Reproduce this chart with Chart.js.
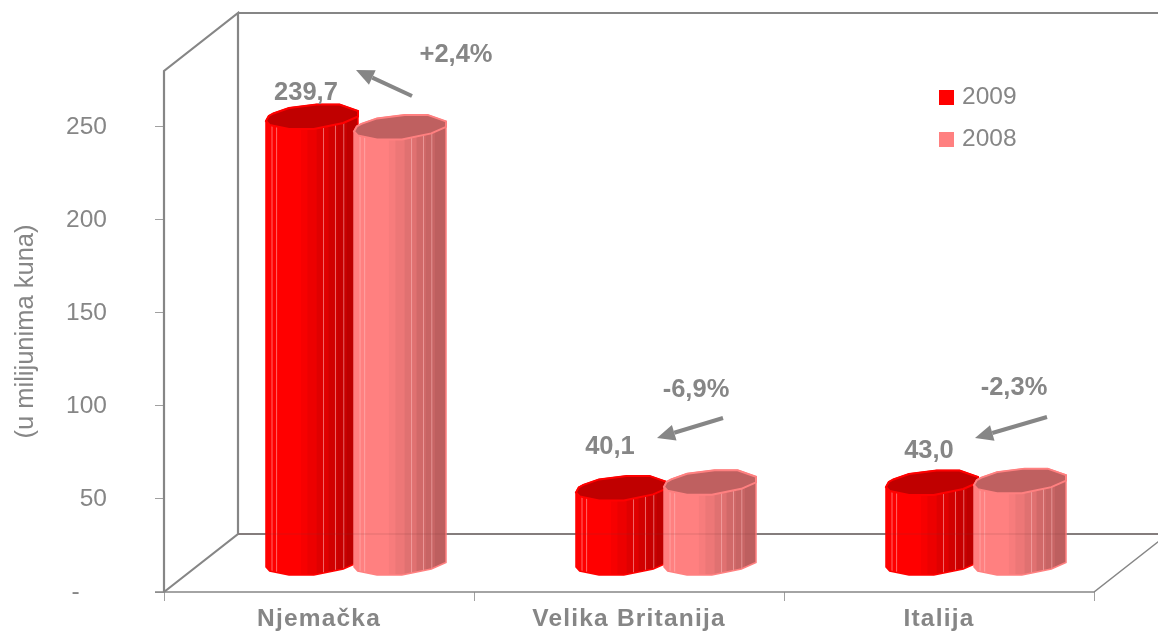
<!DOCTYPE html>
<html>
<head>
<meta charset="utf-8">
<style>html,body{margin:0;padding:0;background:#fff}#w{width:1158px;height:637px}</style>
<script src="https://cdn.jsdelivr.net/npm/chart.js@4/dist/chart.umd.js"></script>
</head>
<body>
<div id="w"><canvas id="c" width="1158" height="637"></canvas></div>
<script>
const categories = ['Njemačka', 'Velika Britanija', 'Italija'];
const values2009 = [239.7, 40.1, 43.0];
const values2008 = [234.1, 43.1, 44.0];
const valueLabels = ['239,7', '40,1', '43,0'];
const growthLabels = ['+2,4%', '-6,9%', '-2,3%'];
const yTitle = '(u milijunima kuna)';

const GREY = '#868686';
const FONT = '"Liberation Sans", Arial, sans-serif';
const DEPTH_X = 74, DEPTH_Y = 58;   // wall depth
const SHIFT_X = 37, SHIFT_Y = 27;   // bars stand inside the 3D floor
const CYL_W = 92;

// outline of a tilted cylinder top: [fraction of width, px offset]
const topBack = [[0,2],[.03,-3],[.08,-5.5],[.25,-11],[.55,-14.5],[.8,-14.5],[1,-8]];
const topFront = [[1,-2.5],[.84,4],[.52,10],[.25,10],[.04,6],[0,2]];
const bands = [[0,.38,1],[.38,.45,.97],[.45,.55,.93],[.55,.68,.88],[.68,.78,.82],[.78,.88,.78],[.88,1,.74]];
const seams = [.06,.11,.62,.75,.84];
const palettes = [
  {side:[255,0,0], top:'#c00000', edge:'#ff0000'},
  {side:[255,128,128], top:'#bf6060', edge:'#ff8080'}
];
// annotation placement, relative to each category centre
const valueOffset = [[-6,-26],[-12,-43],[-3,-34]];
const growthPos = [[137,55],[67,390],[75,388]];
const arrows = [[[93,96],[37,70]],[[94,418],[28,438]],[[108,417],[36,438]]];

function cylinder(ctx, x, yTop, yBase, pal) {
  const L = x - CYL_W / 2, px = u => L + u * CYL_W;
  ctx.save();
  ctx.beginPath();
  topBack.forEach((p, i) => i ? ctx.lineTo(px(p[0]), yTop + p[1]) : ctx.moveTo(px(p[0]), yTop + p[1]));
  topFront.forEach((p) => ctx.lineTo(px(p[0]), yBase + p[1]));
  ctx.closePath();
  ctx.save();
  ctx.clip();
  const hi = yTop - 20, h = yBase - yTop + 40;
  bands.forEach(b => {
    const c = pal.side.map(v => Math.round(v * b[2]));
    ctx.fillStyle = `rgb(${c})`;
    ctx.fillRect(px(b[0]), hi, (b[1] - b[0]) * CYL_W + 1, h);
  });
  ctx.fillStyle = 'rgba(255,190,190,0.55)';
  seams.forEach(u => ctx.fillRect(px(u), hi, 1, h));
  ctx.restore();
  ctx.strokeStyle = pal.edge;
  ctx.lineWidth = 1.5;
  ctx.stroke();
  ctx.beginPath();
  topBack.concat(topFront).forEach((p, i) => i ? ctx.lineTo(px(p[0]), yTop + p[1]) : ctx.moveTo(px(p[0]), yTop + p[1]));
  ctx.closePath();
  ctx.fillStyle = pal.top;
  ctx.fill();
  ctx.strokeStyle = pal.edge;
  ctx.lineWidth = 2;
  ctx.stroke();
  ctx.restore();
}

function line(ctx, pts, w, col) {
  ctx.beginPath();
  pts.forEach((p, i) => i ? ctx.lineTo(p[0], p[1]) : ctx.moveTo(p[0], p[1]));
  ctx.lineWidth = w;
  ctx.strokeStyle = col || GREY;
  ctx.stroke();
}

const scene = {
  id: 'scene',
  beforeDraw(chart) {
    const sx = chart.scales.x, ctx = chart.ctx;
    if (!sx._spaced) {
      const orig = sx.drawLabels;
      sx.drawLabels = function (a) {
        ctx.letterSpacing = '1.2px';
        orig.call(this, a);
        ctx.letterSpacing = '0px';
      };
      sx._spaced = true;
    }
  },
  beforeDatasetsDraw(chart) {
    const {ctx, chartArea: a} = chart;
    const bx = a.left + DEPTH_X, by = a.bottom - DEPTH_Y, ty = a.top - DEPTH_Y;
    ctx.save();
    ctx.lineCap = 'butt';
    line(ctx, [[a.left, a.bottom], [a.left, a.top], [bx, ty], [bx, by], [a.left, a.bottom]], 2.2);
    line(ctx, [[bx, ty], [a.right + DEPTH_X, ty]], 2.2);
    line(ctx, [[bx, by], [a.right + DEPTH_X, by]], 2.2);
    line(ctx, [[a.left - 9, a.bottom], [a.right, a.bottom], [a.right + DEPTH_X, by]], 1.5);
    ctx.restore();
  },
  beforeDatasetDraw() { return false; },
  afterDatasetsDraw(chart) {
    const {ctx, scales: {x, y}, chartArea: a} = chart;
    const base = y.getPixelForValue(0) - SHIFT_Y;
    [0, 1].forEach(d => {
      chart.getDatasetMeta(d).data.forEach(bar => {
        cylinder(ctx, bar.x + SHIFT_X, bar.y - SHIFT_Y, base, palettes[d]);
      });
    });
    line(ctx, [[a.left + DEPTH_X, a.bottom - DEPTH_Y], [a.right + DEPTH_X, a.bottom - DEPTH_Y]], 1, 'rgba(120,60,60,0.22)');

    ctx.save();
    ctx.fillStyle = GREY;
    ctx.textAlign = 'center';
    ctx.textBaseline = 'middle';
    ctx.font = 'bold 25.5px ' + FONT;
    categories.forEach((c, i) => {
      const cx = x.getPixelForValue(i);
      const bar = chart.getDatasetMeta(0).data[i];
      ctx.fillText(valueLabels[i], bar.x + SHIFT_X + valueOffset[i][0], bar.y - SHIFT_Y + valueOffset[i][1]);
      ctx.fillText(growthLabels[i], cx + growthPos[i][0], growthPos[i][1]);
      const [[x0, y0], [x1, y1]] = arrows[i];
      const ang = Math.atan2(y1 - y0, x1 - x0), head = 18, hw = 8;
      const sx = cx + x0, ex = cx + x1;
      const nx = ex - Math.cos(ang) * head, ny = y1 - Math.sin(ang) * head;
      line(ctx, [[sx, y0], [nx, ny]], 4);
      ctx.beginPath();
      ctx.moveTo(ex, y1);
      ctx.lineTo(nx - Math.sin(ang) * hw, ny + Math.cos(ang) * hw);
      ctx.lineTo(nx + Math.sin(ang) * hw, ny - Math.cos(ang) * hw);
      ctx.closePath();
      ctx.fill();
    });

    // legend
    ctx.textAlign = 'left';
    ctx.font = '24.5px ' + FONT;
    chart.data.datasets.forEach((ds, i) => {
      const ly = 97.5 + i * 42;
      ctx.fillStyle = ds.backgroundColor;
      ctx.fillRect(939, ly - 7.5, 15, 15);
      ctx.fillStyle = GREY;
      ctx.fillText(ds.label, 962, ly);
    });
    ctx.restore();
  }
};

new Chart(document.getElementById('c'), {
  type: 'bar',
  data: {
    labels: categories,
    datasets: [
      {label: '2009', data: values2009, backgroundColor: '#ff0000'},
      {label: '2008', data: values2008, backgroundColor: '#ff8080'}
    ]
  },
  plugins: [scene],
  options: {
    responsive: false,
    animation: false,
    devicePixelRatio: 1,
    layout: {padding: {left: 0, right: 64, top: 71, bottom: 0}},
    categoryPercentage: 0.568,
    barPercentage: 1,
    plugins: {legend: {display: false}, tooltip: {enabled: false}, title: {display: false}},
    scales: {
      x: {
        grid: {display: true, drawOnChartArea: false, drawTicks: true, tickLength: 9, color: '#a0a0a0'},
        border: {display: false},
        ticks: {color: GREY, padding: 4, maxRotation: 0, font: {family: FONT, size: 24.5, weight: 'bold'}},
        afterFit(s) { s.height = 45; s.paddingLeft = 0; s.paddingRight = 0; }
      },
      y: {
        min: 0, max: 280,
        grid: {display: true, drawOnChartArea: false, drawTicks: true, tickLength: 9, color: '#a0a0a0'},
        border: {display: false},
        title: {display: true, text: yTitle, color: GREY, padding: {top: 11, bottom: 0}, font: {family: FONT, size: 25.5}},
        afterBuildTicks(s) { s.ticks = s.ticks.filter(t => t.value % 50 === 0); },
        ticks: {
          stepSize: 50, color: GREY, padding: 48,
          font: {family: FONT, size: 24.5},
          callback: v => v === 0 ? '-\u00A0\u00A0\u00A0\u00A0' : String(v)
        },
        afterFit(s) { s.width = 164; s.paddingTop = 0; s.paddingBottom = 0; }
      }
    }
  }
});
</script>
</body>
</html>
